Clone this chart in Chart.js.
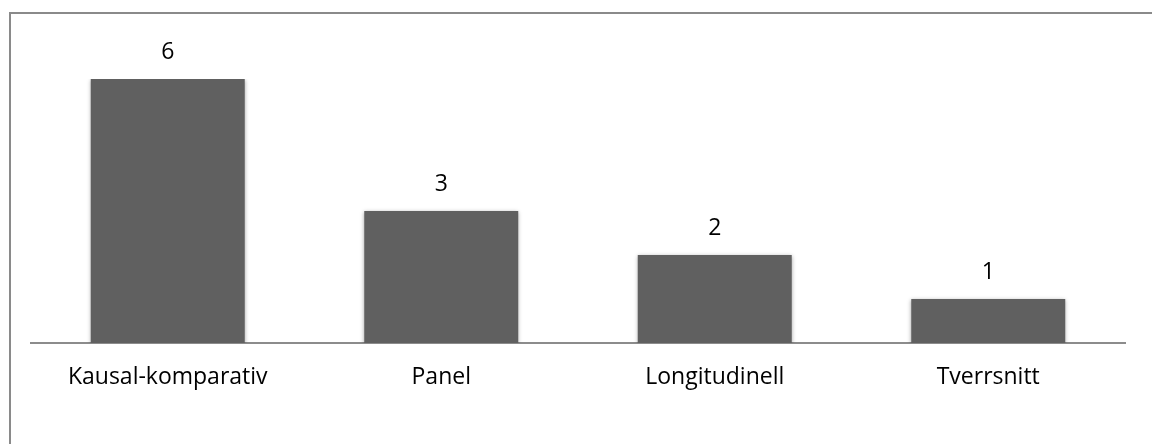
<!DOCTYPE html>
<html>
<head>
<meta charset="utf-8">
<script src="https://cdn.jsdelivr.net/npm/chart.js@4/dist/chart.umd.min.js"></script>
<style>
  html, body { margin: 0; padding: 0; background: #fff; }
  #wrap { position: relative; width: 1152px; height: 444px; overflow: hidden; }
  #frame { position: absolute; left: 9px; top: 12px; width: 1160px; height: 460px;
           border: 2px solid #8a8a8a; box-sizing: border-box; }
  canvas { position: absolute; left: 0; top: 0; }
</style>
</head>
<body>
<div id="wrap">
  <div id="frame"></div>
  <canvas id="c" width="1152" height="444"></canvas>
</div>
<script>
const categories = ['Kausal-komparativ', 'Panel', 'Longitudinell', 'Tverrsnitt'];
const counts = [6, 3, 2, 1];

const FONT = '"Open Sans", Lato, "Liberation Sans", sans-serif';
const FONT_SIZE = 23;

// soft grey halo around each bar
const barShadow = {
  id: 'barShadow',
  beforeDatasetsDraw(chart) {
    const ctx = chart.ctx;
    ctx.save();
    ctx.shadowColor = 'rgba(0,0,0,0.35)';
    ctx.shadowBlur = 4;
    ctx.shadowOffsetX = 0;
    ctx.shadowOffsetY = 1;
  },
  afterDatasetsDraw(chart) {
    chart.ctx.restore();
  }
};

// value printed above each bar
const valueLabels = {
  id: 'valueLabels',
  afterDraw(chart) {
    const ctx = chart.ctx;
    const meta = chart.getDatasetMeta(0);
    ctx.save();
    ctx.fillStyle = '#000';
    ctx.font = FONT_SIZE + 'px ' + FONT;
    ctx.textAlign = 'center';
    ctx.textBaseline = 'middle';
    meta.data.forEach((bar, i) => {
      ctx.fillText(String(counts[i]), bar.x, bar.y - 27);
    });
    ctx.restore();
  }
};

new Chart(document.getElementById('c'), {
  type: 'bar',
  data: {
    labels: categories,
    datasets: [{
      data: counts,
      backgroundColor: '#606060',
      borderWidth: 0,
      categoryPercentage: 1,
      barPercentage: 0.563
    }]
  },
  options: {
    responsive: false,
    animation: false,
    layout: { padding: { left: 31, right: 27, top: 79, bottom: 31.4 } },
    plugins: { legend: { display: false }, tooltip: { enabled: false } },
    scales: {
      x: {
        grid: { display: false, drawTicks: false },
        border: { display: true, color: '#8c8c8c', width: 2 },
        ticks: { color: '#000', font: { family: FONT, size: FONT_SIZE }, padding: 21, maxRotation: 0 }
      },
      y: { display: false, min: 0, max: 6 }
    }
  },
  plugins: [barShadow, valueLabels]
});
</script>
</body>
</html>
